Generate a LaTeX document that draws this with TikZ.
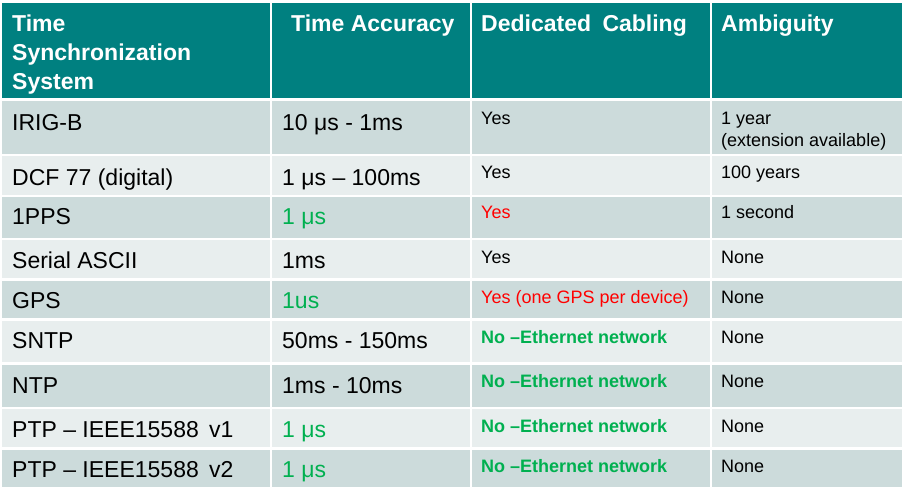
\documentclass[tikz,border=0pt]{standalone}
\usepackage{fontspec}
\setmainfont{Liberation Sans}
\definecolor{HeadTeal}{RGB}{0,128,128}
\definecolor{RowDark}{RGB}{204,219,219}
\definecolor{RowLight}{RGB}{232,238,238}
\definecolor{OkGreen}{RGB}{0,176,80}
\definecolor{BadRed}{RGB}{255,0,0}

\begin{document}
\begin{tikzpicture}[x = 1pt, y = -1pt]
\tikzstyle{HeadStyle}=[
anchor = base west,
inner sep = 0pt,
align = left,
text = white,
font = \fontsize{23}{29}\selectfont\bfseries]
\tikzstyle{BigStyle}=[
anchor = base west,
inner sep = 0pt,
font = \fontsize{23}{29}\selectfont]
\tikzstyle{SmallStyle}=[
anchor = base west,
inner sep = 0pt,
align = left,
font = \fontsize{18}{22}\selectfont]
\tikzstyle{GapStyle}=[white, line width = 2pt]
\useasboundingbox (0,0) rectangle (907,498);
\fill[white] (0,0) rectangle (907,498);
\fill[HeadTeal] (2,3) rectangle (902,98);
\fill[RowDark] (2,101) rectangle (902,154);
\fill[RowLight] (2,156) rectangle (902,195);
\fill[RowDark] (2,197) rectangle (902,238);
\fill[RowLight] (2,240) rectangle (902,278);
\fill[RowDark] (2,281) rectangle (902,318);
\fill[RowLight] (2,321) rectangle (902,362);
\fill[RowDark] (2,365) rectangle (902,407);
\fill[RowLight] (2,409) rectangle (902,447);
\fill[RowDark] (2,450) rectangle (902,487);
\draw[GapStyle] (271,3) -- (271,487);
\draw[GapStyle] (471,3) -- (471,487);
\draw[GapStyle] (711,3) -- (711,487);
\node[HeadStyle] (hsys) at (12,89) {Time\\Synchronization\\System};
\node[HeadStyle] (hacc) at (291,31) {Time Accuracy};
\node[HeadStyle] (hcab) at (481,31) {Dedicated\hspace{5pt} Cabling};
\node[HeadStyle] (hamb) at (721,31) {Ambiguity};
\node[BigStyle] (sys1) at (12,130) {IRIG-B};
\node[BigStyle] (acc1) at (282,130) {10 μs - 1ms};
\node[SmallStyle] (cab1) at (481,124) {Yes};
\node[SmallStyle] (amb1) at (721,146) {1 year\\(extension available)};
\node[BigStyle] (sys2) at (12,185) {DCF 77 (digital)};
\node[BigStyle] (acc2) at (282,185) {1 μs – 100ms};
\node[SmallStyle] (cab2) at (481,178) {Yes};
\node[SmallStyle] (amb2) at (721,178) {100 years};
\node[BigStyle] (sys3) at (12,224) {1PPS};
\node[BigStyle, text = OkGreen] (acc3) at (282,224) {1 μs};
\node[SmallStyle, text = BadRed] (cab3) at (481,218) {Yes};
\node[SmallStyle] (amb3) at (721,218) {1 second};
\node[BigStyle] (sys4) at (12,268) {Serial ASCII};
\node[BigStyle] (acc4) at (282,268) {1ms};
\node[SmallStyle] (cab4) at (481,263) {Yes};
\node[SmallStyle] (amb4) at (721,263) {None};
\node[BigStyle] (sys5) at (12,308) {GPS};
\node[BigStyle, text = OkGreen] (acc5) at (282,308) {1us};
\node[SmallStyle, text = BadRed] (cab5) at (481,303) {Yes (one GPS per device)};
\node[SmallStyle] (amb5) at (721,303) {None};
\node[BigStyle] (sys6) at (12,348) {SNTP};
\node[BigStyle] (acc6) at (282,348) {50ms - 150ms};
\node[SmallStyle, text = OkGreen, font = \fontsize{18}{22}\selectfont\bfseries] (cab6) at (481,343) {No –Ethernet network};
\node[SmallStyle] (amb6) at (721,343) {None};
\node[BigStyle] (sys7) at (12,393) {NTP};
\node[BigStyle] (acc7) at (282,393) {1ms - 10ms};
\node[SmallStyle, text = OkGreen, font = \fontsize{18}{22}\selectfont\bfseries] (cab7) at (481,387) {No –Ethernet network};
\node[SmallStyle] (amb7) at (721,387) {None};
\node[BigStyle] (sys8) at (12,437) {PTP – IEEE15588\hspace{4pt} v1};
\node[BigStyle, text = OkGreen] (acc8) at (282,437) {1 μs};
\node[SmallStyle, text = OkGreen, font = \fontsize{18}{22}\selectfont\bfseries] (cab8) at (481,432) {No –Ethernet network};
\node[SmallStyle] (amb8) at (721,432) {None};
\node[BigStyle] (sys9) at (12,477) {PTP – IEEE15588\hspace{4pt} v2};
\node[BigStyle, text = OkGreen] (acc9) at (282,477) {1 μs};
\node[SmallStyle, text = OkGreen, font = \fontsize{18}{22}\selectfont\bfseries] (cab9) at (481,472) {No –Ethernet network};
\node[SmallStyle] (amb9) at (721,472) {None};
\end{tikzpicture}
\end{document}
